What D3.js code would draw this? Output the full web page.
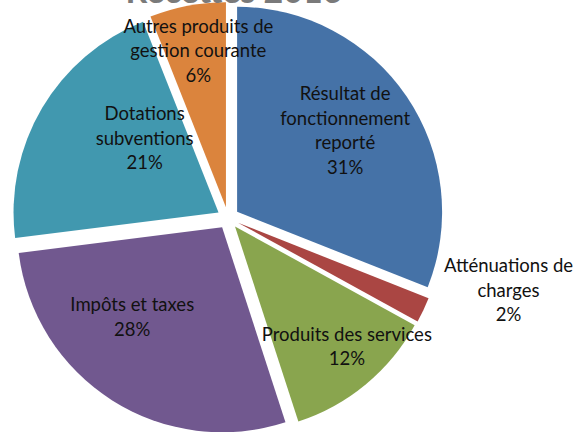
<!DOCTYPE html>
<html><head><meta charset="utf-8">
<script src="https://cdn.jsdelivr.net/npm/d3@7"></script>
<style>body{margin:0;background:#fff}svg{display:block}</style>
</head><body>
<svg id="chart" width="576" height="432"></svg>
<script>
const title = "Recettes 2016";
const categories = ["Résultat de fonctionnement reporté", "Atténuations de charges", "Produits des services", "Impôts et taxes", "Dotations subventions", "Autres produits de gestion courante"];
const values = [31, 2, 12, 28, 21, 6];
const labelLines = [["Résultat de","fonctionnement","reporté"],["Atténuations de","charges"],["Produits des services"],["Impôts et taxes"],["Dotations","subventions"],["Autres produits de","gestion courante"]];
const colors = ["#4572A7", "#AA4643", "#89A54E", "#71588F", "#4198AF", "#DB843D"];
// label placement: [angle in degrees from top, fraction of radius] relative to exploded slice apex
const labelPolar = [[53,0.66],[104,1.36],[137,0.8],[225,0.62],[315,0.51],[350,0.775]];

const svg = d3.select("#chart");
const cx = 228, cy = 218, R = 205, explode = 11;
const total = d3.sum(values);

const pie = d3.pie().sort(null).value(d => d)(values);
const arc = d3.arc().innerRadius(0).outerRadius(R);
const fmt = v => Math.round(v / total * 100) + "%";

const g = svg.append("g").attr("transform", `translate(${cx},${cy})`);
pie.forEach((p, i) => {
  const mid = (p.startAngle + p.endAngle) / 2;
  const ox = Math.sin(mid) * explode, oy = -Math.cos(mid) * explode;
  const sg = g.append("g").attr("transform", `translate(${ox},${oy})`);
  sg.append("path").attr("d", arc(p)).attr("fill", colors[i]);
  const [deg, f] = labelPolar[i];
  const a = deg * Math.PI / 180;
  const lx = Math.sin(a) * R * f, ly = -Math.cos(a) * R * f;
  const lines = labelLines[i].concat([fmt(values[i])]);
  const lh = 24.5;
  const t = sg.append("text")
    .attr("text-anchor", "middle")
    .attr("font-family", "Lato, 'Open Sans', sans-serif")
    .attr("font-size", 18.5)
    .attr("fill", "#111")
    .text(categories[i] ? null : null);
  lines.forEach((ln, k) => {
    t.append("tspan").attr("x", lx)
      .attr("y", ly + (k - (lines.length - 1) / 2) * lh)
      .attr("dy", "0.35em").text(ln);
  });
});

svg.append("text").attr("x", 234).attr("y", 3)
  .attr("text-anchor", "middle")
  .attr("font-family", "Lato, sans-serif").attr("font-weight", "bold")
  .attr("font-size", 34).attr("fill", "#7a7a7a").text(title);
</script>
</body></html>
